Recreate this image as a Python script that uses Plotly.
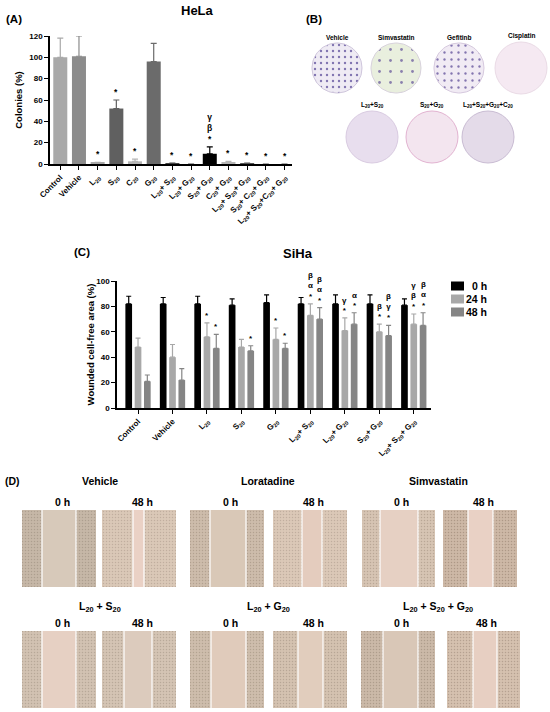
import numpy as np
import plotly.graph_objects as go

W, H = 550, 712
FONT = "Liberation Sans, Arial, sans-serif"


def X(px):
    return px / W


def Y(py):
    return 1 - py / H


# ---- (A) HeLa colony formation
cats_a = ["Control", "Vehicle", "L<sub>20</sub>", "S<sub>20</sub>", "C<sub>20</sub>", "G<sub>20</sub>",
          "L<sub>20</sub>+ S<sub>20</sub>", "L<sub>20</sub>+ G<sub>20</sub>", "S<sub>20</sub>+ G<sub>20</sub>",
          "C<sub>20</sub>+ G<sub>20</sub>", "L<sub>20</sub>+ S<sub>20</sub>+ G<sub>20</sub>",
          "S<sub>20</sub>+ C<sub>20</sub>+ G<sub>20</sub>",
          "L<sub>20</sub>+ S<sub>20</sub>+C<sub>20</sub>+ G<sub>20</sub>"]
colonies = [100, 101, 1, 52, 2.5, 96, 0.5, 0, 9.6, 1.5, 0.5, 0, 0]
colonies_err = [18, 19, 0.6, 8, 2, 17, 0.4, 0, 6.5, 1, 0.4, 0, 0]
sig_a = ["", "", "*", "*", "*", "", "*", "*", "γ<br>β<br>*", "*", "*", "*", "*"]
colors_a = ["#a9a9a9", "#8c8c8c", "#a9a9a9", "#606060", "#b5b5b5", "#6b6b6b", "#444444",
            "#444444", "#000000", "#b5b5b5", "#555555", "#555555", "#555555"]

# ---- (C) SiHa wound healing
cats_c = ["Control", "Vehicle", "L<sub>20</sub>", "S<sub>20</sub>", "G<sub>20</sub>",
          "L<sub>20</sub>+ S<sub>20</sub>", "L<sub>20</sub>+ G<sub>20</sub>", "S<sub>20</sub>+ G<sub>20</sub>",
          "L<sub>20</sub>+ S<sub>20</sub>+ G<sub>20</sub>"]
area_0h = [82, 82, 82, 81, 83, 82, 82, 82, 81]
err_0h = [6, 5, 6, 5, 6, 5, 7, 7, 5]
area_24h = [48, 40, 56, 48, 54, 73, 61, 60, 66]
err_24h = [7, 10, 11, 6, 9, 9, 10, 6, 8]
area_48h = [21, 22, 47, 45, 47, 70, 66, 57, 65]
err_48h = [5, 9, 11, 4, 4, 9, 9, 8, 10]
sig_24h = ["", "", "*", "", "*", "β<br>α<br>*", "γ<br>*", "β<br>*", "γ<br>β<br>*"]
sig_48h = ["", "", "*", "*", "*", "β<br>α<br>*", "α<br>*", "β<br>γ<br>*", "β<br>α<br>*"]
series_c = ["0 h", "24 h", "48 h"]

fig = go.Figure()

# bars panel A
for i, c in enumerate(cats_a):
    fig.add_trace(go.Bar(
        x=[c], y=[colonies[i]], xaxis="x", yaxis="y",
        marker=dict(color=colors_a[i], line=dict(width=0)),
        width=0.75, offset=-0.375, showlegend=False,
        error_y=dict(type="data", array=[colonies_err[i]], arrayminus=[0], symmetric=False,
                     color=colors_a[i], thickness=1.2, width=3),
    ))

# bars panel C
c_vals = [area_0h, area_24h, area_48h]
c_errs = [err_0h, err_24h, err_48h]
c_cols = ["#000000", "#a8a8a8", "#858585"]
c_offs = [-0.367, -0.097, 0.173]
for k in range(3):
    fig.add_trace(go.Bar(
        x=cats_c, y=c_vals[k], name=series_c[k], xaxis="x2", yaxis="y2",
        marker=dict(color=c_cols[k], line=dict(width=0)),
        width=0.194, offset=c_offs[k], showlegend=False,
        error_y=dict(type="data", array=c_errs[k], arrayminus=[0] * len(cats_c), symmetric=False,
                     color=c_cols[k], thickness=1.2, width=2.5),
    ))

# ---- (B) dishes, drawn in pixel space on an overlay axis
dishes = [
    # label, cx, cy, r, fill, edge, dots, dot size, solidity
    ("Vehicle", 337, 68, 25, "#efebf4", "#cfc6dc", "#5b4b99", 6, 0.12),
    ("Simvastatin", 396, 68, 25, "#e9efde", "#d8d2dc", "#6a5a9c", 11, 0.05),
    ("Gefitinb", 459, 68, 25, "#f1ebf4", "#d6c9de", "#5e4d98", 7, 0.09),
    ("Cisplatin", 521, 68, 26, "#f5e9f2", "#eadbe6", None, 0, 0),
    ("L<sub>20</sub>+S<sub>20</sub>", 372, 137, 26, "#e8deee", "#d9cbe1", None, 0, 0),
    ("S<sub>20</sub>+G<sub>20</sub>", 432, 137, 26, "#f3e5ef", "#e2b3d1", None, 0, 0),
    ("L<sub>20</sub>+S<sub>20</sub>+G<sub>20</sub>+C<sub>20</sub>", 488, 137, 26, "#e4dbe9", "#c9bcd3", None, 0, 0),
]
theta = np.linspace(0, 2 * np.pi, 80)
shapes = []
annotations = []
for lab, cx, cy, r, fill, edge, dot, ds, sol in dishes:
    if dot:
        fig.add_trace(go.Scatter(
            x=cx + r * np.cos(theta), y=cy + r * np.sin(theta), xaxis="x3", yaxis="y3",
            mode="lines", line=dict(color=edge, width=1), fill="toself",
            fillpattern=dict(shape=".", fgcolor=dot, bgcolor=fill, size=ds, solidity=sol,
                             fgopacity=0.75),
            showlegend=False, hoverinfo="skip",
        ))
    else:
        shapes.append(dict(type="circle", xref="x3", yref="y3", x0=cx - r, x1=cx + r,
                           y0=cy - r, y1=cy + r, fillcolor=fill, line=dict(color=edge, width=1),
                           layer="below"))
    annotations.append(dict(x=cx, y=cy - r - 6, xref="x3", yref="y3", text=lab, showarrow=False,
                            yanchor="middle", font=dict(size=6.5, color="black", weight="bold")))

# ---- (D) wound images
images = [
    # x0, x1, strip0, strip1, y0, y1, cells, strip, dots
    (22, 96, 42, 76, 510, 587, "#c6b7a7", "#d7c9ba", "#8f8072"),
    (102, 176, 133, 144, 510, 587, "#dac8b7", "#ead1c5", "#a08e80"),
    (190, 264, 210, 246, 510, 587, "#cdbcab", "#d9c8b7", "#918070"),
    (273, 347, 302, 322, 510, 587, "#dbc8b7", "#e4ccbe", "#a08e80"),
    (362, 435, 380, 418, 510, 587, "#d6c4b3", "#e6d0c3", "#968474"),
    (443, 517, 468, 493, 510, 587, "#cdb8a6", "#e9d1c5", "#85725f"),
    (22, 96, 42, 76, 631, 708, "#d2c2b2", "#e6d0c3", "#988878"),
    (102, 176, 124, 152, 631, 708, "#d4c4b4", "#dccbbd", "#988878"),
    (190, 264, 211, 246, 631, 708, "#cebdac", "#e0cbbb", "#938272"),
    (273, 347, 298, 323, 631, 708, "#d4c2b0", "#e1cdbd", "#958374"),
    (361, 435, 383, 418, 631, 708, "#cbb9a8", "#d9c7b7", "#8b7a6a"),
    (447, 520, 473, 497, 631, 708, "#d5c1af", "#e7cfc2", "#8e7b6b"),
]
for x0, x1, s0, s1, y0, y1, cell, strip, dot in images:
    fig.add_trace(go.Scatter(
        x=[x0, x1, x1, x0, x0], y=[y0, y0, y1, y1, y0], xaxis="x3", yaxis="y3",
        mode="lines", line=dict(width=0, color=cell), fill="toself",
        fillpattern=dict(shape=".", fgcolor=dot, bgcolor=cell, size=3, solidity=0.2,
                         fgopacity=0.45),
        showlegend=False, hoverinfo="skip",
    ))
    shapes.append(dict(type="rect", xref="x3", yref="y3", x0=s0, x1=s1, y0=y0, y1=y1,
                       fillcolor=strip, line=dict(width=0)))
    for sx in (s0, s1):
        shapes.append(dict(type="line", xref="x3", yref="y3", x0=sx, x1=sx, y0=y0, y1=y1,
                           line=dict(color="white", width=1.2)))

d_titles = [("Vehicle", 100, 481), ("Loratadine", 268, 481), ("Simvastatin", 438, 481),
            ("L<sub>20</sub> + S<sub>20</sub>", 100, 607), ("L<sub>20</sub> + G<sub>20</sub>", 268, 607),
            ("L<sub>20</sub> + S<sub>20</sub> + G<sub>20</sub>", 438, 607)]
for t, x, y in d_titles:
    annotations.append(dict(x=x, y=y, xref="x3", yref="y3", text=t, showarrow=False,
                            font=dict(size=10.5, color="black", weight="bold")))
for x0, x1, s0, s1, y0, y1, cell, strip, dot in images:
    annotations.append(dict(x=(x0 + x1) / 2 + 3, y=y0 - 8, xref="x3", yref="y3",
                            text="0 h" if x0 in (22, 190, 361, 362) else "48 h", showarrow=False,
                            font=dict(size=10.5, color="black", weight="bold")))

# significance marks
for i, s in enumerate(sig_a):
    if s:
        annotations.append(dict(x=cats_a[i], y=colonies[i] + colonies_err[i], xref="x", yref="y",
                                text=s, showarrow=False, yanchor="bottom", yshift=1,
                                font=dict(size=8.5, color="black", weight="bold")))
for sigs, vals, errs, shift in [(sig_24h, area_24h, err_24h, 0), (sig_48h, area_48h, err_48h, 9.3)]:
    for i, s in enumerate(sigs):
        if s:
            annotations.append(dict(x=cats_c[i], y=vals[i] + errs[i], xref="x2", yref="y2",
                                    text=s, showarrow=False, yanchor="bottom", xshift=shift, yshift=1,
                                    font=dict(size=8, color="black", weight="bold")))

# legend for C
for k, name in enumerate(series_c):
    ty = 286 + 13 * k
    shapes.append(dict(type="rect", xref="x3", yref="y3", x0=451, x1=464, y0=ty - 4.5, y1=ty + 4.5,
                       fillcolor=c_cols[k], line=dict(width=0)))
    annotations.append(dict(x=489, y=ty, xref="x3", yref="y3", text=name, showarrow=False,
                            xanchor="right", font=dict(size=10.5, color="black", weight="bold")))

# panel letters and titles
for t, x, y, sz in [("(A)", 14, 19, 11.5), ("(B)", 314, 19, 11.5), ("(C)", 82, 252, 11.5),
                    ("(D)", 12, 481, 10.5), ("HeLa", 197, 10, 13), ("SiHa", 298, 253, 13)]:
    annotations.append(dict(x=x, y=y, xref="x3", yref="y3", text=t, showarrow=False,
                            font=dict(size=sz, color="black", weight="bold")))

axis_common = dict(showline=True, linecolor="black", linewidth=1.5, ticks="outside",
                   tickcolor="black", tickwidth=1.2, ticklen=4, showgrid=False, zeroline=False,
                   automargin=False,
                   tickfont=dict(size=8, color="black", weight="bold", family=FONT))

fig.update_layout(
    width=W, height=H, margin=dict(l=0, r=0, t=0, b=0, pad=0), autosize=False,
    paper_bgcolor="white", plot_bgcolor="rgba(0,0,0,0)",
    font=dict(family=FONT, color="black"),
    barmode="overlay",
    xaxis=dict(domain=[X(50), X(292)], anchor="y", type="category", range=[-0.55, 12.4],
               tickangle=-45, **axis_common),
    yaxis=dict(domain=[Y(164), Y(36)], anchor="x", range=[0, 120], dtick=20,
               title=dict(text="Colonies (%)", standoff=5, font=dict(size=9.5, weight="bold")),
               **axis_common),
    xaxis2=dict(domain=[X(117), X(431)], anchor="y2", type="category", range=[-0.61, 8.5],
                tickangle=-45, **axis_common),
    yaxis2=dict(domain=[Y(408), Y(281)], anchor="x2", range=[0, 100], dtick=20,
                title=dict(text="Wounded cell-free area (%)", standoff=0, font=dict(size=9.5, weight="bold")),
                **axis_common),
    xaxis3=dict(domain=[0, 1], anchor="y3", range=[0, W], visible=False, fixedrange=True,
                automargin=False),
    yaxis3=dict(domain=[0, 1], anchor="x3", range=[H, 0], visible=False, fixedrange=True,
                automargin=False),
    shapes=shapes,
    annotations=annotations,
)

# page body has a default 8px margin; drop it so the figure sits at the window corner
fig.write_html("out.html", config={"displayModeBar": False},
               post_script="document.body.style.margin='0px';")
